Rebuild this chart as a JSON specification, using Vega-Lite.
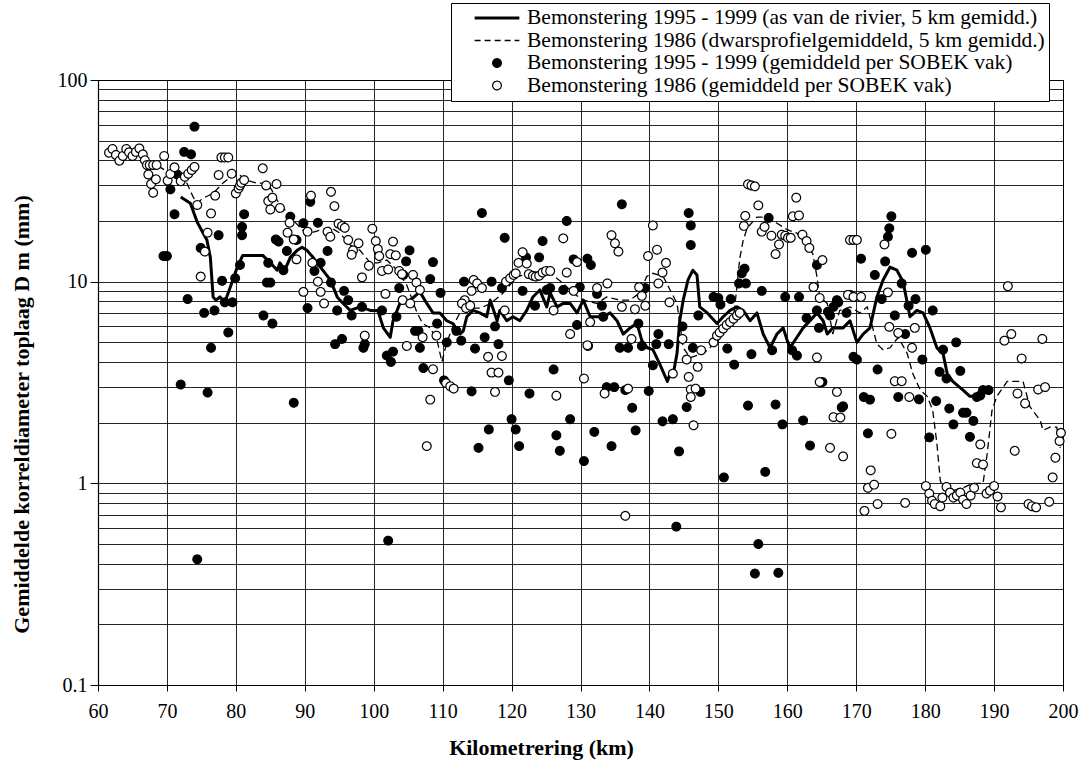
{
"$schema":"https://vega.github.io/schema/vega-lite/v6.json",
"width":965,"height":605,
"autosize":{"type":"none"},
"padding":{"left":98,"top":80,"right":24,"bottom":85},
"background":"white",
"view":{"stroke":"black","strokeWidth":1},
"config":{
 "font":"Liberation Serif",
 "axis":{"labelFont":"Liberation Serif","titleFont":"Liberation Serif","labelFontSize":20,"titleFontSize":22,"titleFontWeight":"bold","labelColor":"black","titleColor":"black","domainColor":"black","tickColor":"black","gridColor":"black","gridOpacity":0.85,"gridWidth":1,"domainWidth":1.2}
},
"datasets":{
"solid":[
{"km":72.0,"d":26.3},{"km":73.4,"d":24.5},{"km":74.4,"d":19.7},{"km":75.8,"d":16.1},{"km":76.3,"d":13.2},{"km":76.7,"d":8.4},{"km":77.1,"d":8.1},{"km":77.7,"d":8.4},{"km":78.4,"d":7.9},{"km":79.2,"d":9.4},{"km":80.2,"d":11.8},{"km":81.0,"d":13.5},{"km":83.9,"d":13.5},{"km":85.0,"d":12.4},{"km":86.0,"d":11.4},{"km":86.4,"d":12.4},{"km":87.1,"d":11.4},{"km":87.9,"d":13.2},{"km":88.9,"d":14.3},{"km":89.6,"d":14.8},{"km":90.3,"d":14.3},{"km":91.2,"d":13.2},{"km":92.6,"d":11.4},{"km":93.7,"d":10.2},{"km":94.7,"d":8.4},{"km":95.1,"d":8.1},{"km":96.6,"d":7.2},{"km":98.0,"d":7.5},{"km":99.5,"d":7.2},{"km":100.6,"d":7.2},{"km":101.4,"d":5.9},{"km":102.4,"d":5.3},{"km":102.8,"d":6.4},{"km":103.8,"d":7.8},{"km":105.3,"d":8.1},{"km":106.7,"d":8.9},{"km":107.7,"d":7.8},{"km":108.6,"d":7.0},{"km":109.6,"d":7.0},{"km":110.6,"d":6.4},{"km":111.5,"d":6.2},{"km":112.5,"d":5.5},{"km":113.0,"d":5.7},{"km":113.5,"d":6.7},{"km":114.4,"d":7.2},{"km":115.4,"d":7.0},{"km":116.4,"d":6.7},{"km":116.9,"d":8.1},{"km":117.9,"d":6.4},{"km":118.3,"d":7.2},{"km":119.3,"d":6.4},{"km":120.2,"d":6.7},{"km":121.2,"d":6.4},{"km":122.2,"d":7.2},{"km":123.1,"d":8.4},{"km":124.1,"d":9.1},{"km":125.1,"d":7.5},{"km":125.6,"d":8.8},{"km":126.6,"d":7.5},{"km":127.5,"d":7.8},{"km":128.5,"d":7.8},{"km":129.5,"d":7.0},{"km":130.4,"d":8.1},{"km":131.4,"d":6.7},{"km":132.4,"d":6.7},{"km":133.3,"d":6.7},{"km":134.3,"d":7.0},{"km":135.3,"d":6.4},{"km":136.2,"d":5.5},{"km":137.2,"d":5.9},{"km":138.2,"d":6.2},{"km":138.9,"d":5.1},{"km":139.7,"d":4.7},{"km":140.5,"d":4.6},{"km":141.5,"d":3.9},{"km":142.6,"d":3.2},{"km":143.0,"d":3.5},{"km":143.4,"d":3.4},{"km":144.0,"d":4.4},{"km":144.4,"d":6.4},{"km":144.9,"d":8.1},{"km":145.6,"d":10.2},{"km":146.3,"d":11.4},{"km":146.9,"d":10.8},{"km":147.3,"d":7.5},{"km":148.4,"d":7.0},{"km":149.8,"d":6.2},{"km":150.7,"d":6.7},{"km":151.7,"d":7.2},{"km":152.7,"d":7.5},{"km":153.6,"d":7.2},{"km":154.6,"d":6.4},{"km":155.6,"d":7.0},{"km":156.5,"d":5.5},{"km":157.5,"d":4.7},{"km":158.5,"d":5.5},{"km":159.4,"d":5.9},{"km":160.0,"d":5.1},{"km":160.4,"d":4.7},{"km":161.4,"d":5.3},{"km":162.3,"d":5.9},{"km":163.3,"d":6.4},{"km":164.3,"d":7.0},{"km":165.2,"d":6.4},{"km":165.8,"d":5.5},{"km":166.6,"d":5.9},{"km":168.1,"d":5.9},{"km":169.1,"d":6.4},{"km":170.1,"d":5.0},{"km":171.0,"d":5.5},{"km":172.0,"d":5.9},{"km":173.0,"d":8.4},{"km":173.9,"d":10.2},{"km":174.9,"d":11.8},{"km":175.9,"d":11.4},{"km":176.8,"d":10.0},{"km":177.8,"d":6.7},{"km":178.8,"d":7.2},{"km":179.7,"d":7.0},{"km":180.7,"d":5.9},{"km":181.7,"d":4.7},{"km":182.6,"d":4.4},{"km":183.2,"d":3.5},{"km":184.0,"d":3.2},{"km":185.5,"d":2.9},{"km":186.5,"d":2.7},{"km":187.5,"d":2.7},{"km":188.4,"d":2.9},{"km":189.4,"d":2.9}
],
"dashed":[
{"km":67.1,"d":37.9},{"km":69.0,"d":37.0},{"km":70.4,"d":34.5},{"km":71.5,"d":33.0},{"km":72.9,"d":30.8},{"km":73.8,"d":26.3},{"km":74.4,"d":24.5},{"km":75.2,"d":25.9},{"km":76.7,"d":27.4},{"km":78.1,"d":30.8},{"km":79.2,"d":33.0},{"km":80.2,"d":34.5},{"km":81.6,"d":31.8},{"km":83.1,"d":30.8},{"km":84.5,"d":30.8},{"km":85.2,"d":28.5},{"km":86.0,"d":25.3},{"km":86.8,"d":23.4},{"km":88.3,"d":20.2},{"km":89.7,"d":18.0},{"km":90.8,"d":17.4},{"km":92.2,"d":18.0},{"km":93.7,"d":18.6},{"km":95.1,"d":17.4},{"km":96.6,"d":15.2},{"km":98.0,"d":14.3},{"km":99.5,"d":12.4},{"km":100.6,"d":12.4},{"km":101.9,"d":12.8},{"km":103.4,"d":11.4},{"km":104.8,"d":9.6},{"km":106.3,"d":7.0},{"km":107.1,"d":6.2},{"km":108.2,"d":5.9},{"km":109.2,"d":5.1},{"km":109.9,"d":4.0},{"km":110.6,"d":5.0},{"km":111.5,"d":6.0},{"km":112.5,"d":7.0},{"km":114.0,"d":7.4},{"km":115.5,"d":7.4},{"km":117.0,"d":7.8},{"km":118.8,"d":8.8},{"km":120.8,"d":10.6},{"km":122.7,"d":11.0},{"km":125.1,"d":11.4},{"km":127.5,"d":9.8},{"km":128.9,"d":8.8},{"km":130.4,"d":8.1},{"km":132.4,"d":7.8},{"km":133.8,"d":8.4},{"km":135.7,"d":8.1},{"km":137.2,"d":8.1},{"km":138.6,"d":8.8},{"km":139.6,"d":10.6},{"km":140.5,"d":11.0},{"km":142.0,"d":10.6},{"km":143.0,"d":9.1},{"km":144.0,"d":7.8},{"km":144.9,"d":4.7},{"km":145.9,"d":4.2},{"km":147.8,"d":4.4},{"km":148.8,"d":4.7},{"km":149.8,"d":5.3},{"km":150.7,"d":5.7},{"km":151.7,"d":6.2},{"km":152.2,"d":6.6},{"km":152.7,"d":9.5},{"km":153.1,"d":13.0},{"km":153.6,"d":16.0},{"km":154.2,"d":18.5},{"km":155.6,"d":20.9},{"km":157.1,"d":20.9},{"km":158.5,"d":19.5},{"km":160.0,"d":18.1},{"km":161.4,"d":17.4},{"km":162.9,"d":14.8},{"km":163.7,"d":13.8},{"km":164.3,"d":10.6},{"km":164.7,"d":8.4},{"km":165.8,"d":7.8},{"km":166.6,"d":5.5},{"km":167.6,"d":7.2},{"km":169.1,"d":7.5},{"km":170.5,"d":7.0},{"km":171.6,"d":7.5},{"km":172.4,"d":5.9},{"km":173.0,"d":4.9},{"km":173.9,"d":4.6},{"km":174.9,"d":4.7},{"km":176.1,"d":5.3},{"km":177.4,"d":4.4},{"km":178.2,"d":3.5},{"km":179.3,"d":2.9},{"km":180.3,"d":2.7},{"km":181.1,"d":2.3},{"km":181.7,"d":1.58},{"km":182.2,"d":1.03},{"km":182.6,"d":0.95},{"km":184.0,"d":0.92},{"km":185.5,"d":0.95},{"km":186.9,"d":1.0},{"km":188.4,"d":1.0},{"km":189.0,"d":1.4},{"km":189.7,"d":2.3},{"km":190.4,"d":2.7},{"km":191.9,"d":3.2},{"km":192.7,"d":3.2},{"km":194.2,"d":3.2},{"km":195.2,"d":2.4},{"km":196.7,"d":2.05},{"km":197.1,"d":1.83},{"km":198.1,"d":1.9},{"km":199.1,"d":1.9},{"km":199.6,"d":1.5}
],
"pts":[
{"s":"C","km":74.0,"d":58.7},{"s":"C","km":72.5,"d":44},{"s":"C","km":73.5,"d":42.8},{"s":"C","km":71.5,"d":34},{"s":"C","km":70.5,"d":28.7},{"s":"C","km":71.1,"d":21.6},{"s":"C","km":69.5,"d":13.4},{"s":"C","km":70.0,"d":13.4},{"s":"C","km":74.9,"d":14.7},{"s":"C","km":77.5,"d":17},{"s":"C","km":81.2,"d":21.6},{"s":"C","km":80.9,"d":18.7},{"s":"C","km":80.9,"d":17},{"s":"C","km":78.0,"d":10.1},{"s":"C","km":73.0,"d":8.2},{"s":"C","km":75.4,"d":7.0},{"s":"C","km":76.9,"d":7.2},{"s":"C","km":78.4,"d":7.9},{"s":"C","km":79.5,"d":7.9},{"s":"C","km":79.9,"d":10.4},{"s":"C","km":80.6,"d":12.1},{"s":"C","km":84.0,"d":6.8},{"s":"C","km":84.5,"d":9.9},{"s":"C","km":85.0,"d":9.9},{"s":"C","km":84.7,"d":12.4},{"s":"C","km":85.8,"d":16.2},{"s":"C","km":86.2,"d":15.8},{"s":"C","km":86.9,"d":11.4},{"s":"C","km":87.4,"d":14.2},{"s":"C","km":87.9,"d":21},{"s":"C","km":88.8,"d":16.1},{"s":"C","km":89.8,"d":19.5},{"s":"C","km":90.8,"d":24.9},{"s":"C","km":91.9,"d":19.6},{"s":"C","km":91.4,"d":11.3},{"s":"C","km":92.3,"d":12.4},{"s":"C","km":93.3,"d":14.2},{"s":"C","km":90.4,"d":7.4},{"s":"C","km":93.8,"d":9.9},{"s":"C","km":94.7,"d":7.2},{"s":"C","km":78.9,"d":5.6},{"s":"C","km":76.4,"d":4.7},{"s":"C","km":72.0,"d":3.09},{"s":"C","km":75.9,"d":2.82},{"s":"C","km":74.4,"d":0.42},{"s":"C","km":85.3,"d":6.2},{"s":"C","km":88.4,"d":2.51},{"s":"C","km":94.4,"d":4.9},
{"s":"C","km":115.7,"d":21.9},{"s":"C","km":119.0,"d":16.5},{"s":"C","km":124.5,"d":15.9},{"s":"C","km":124.0,"d":13.2},{"s":"C","km":128.0,"d":20},{"s":"C","km":129.0,"d":12.9},{"s":"C","km":122.1,"d":13.2},{"s":"C","km":121.6,"d":9.0},{"s":"C","km":117.1,"d":10.0},{"s":"C","km":118.6,"d":9.3},{"s":"C","km":113.1,"d":10.0},{"s":"C","km":109.7,"d":8.8},{"s":"C","km":108.2,"d":10.3},{"s":"C","km":108.6,"d":12.5},{"s":"C","km":105.2,"d":14.3},{"s":"C","km":104.7,"d":12.6},{"s":"C","km":103.7,"d":9.3},{"s":"C","km":95.7,"d":9.0},{"s":"C","km":113.7,"d":7.7},{"s":"C","km":125.1,"d":9.1},{"s":"C","km":127.5,"d":9.1},{"s":"C","km":96.3,"d":8.1},{"s":"C","km":96.8,"d":6.8},{"s":"C","km":98.3,"d":7.5},{"s":"C","km":98.5,"d":4.7},{"s":"C","km":95.4,"d":5.2},{"s":"C","km":101.2,"d":7.2},{"s":"C","km":103.3,"d":6.7},{"s":"C","km":104.3,"d":10.8},{"s":"C","km":106.0,"d":5.7},{"s":"C","km":106.5,"d":5.7},{"s":"C","km":106.7,"d":4.7},{"s":"C","km":109.2,"d":6.2},{"s":"C","km":110.6,"d":5.0},{"s":"C","km":112.0,"d":5.7},{"s":"C","km":112.7,"d":5.1},{"s":"C","km":116.1,"d":5.3},{"s":"C","km":117.6,"d":6.0},{"s":"C","km":123.4,"d":7.6},{"s":"C","km":125.6,"d":9.3},{"s":"C","km":129.5,"d":6.1},{"s":"C","km":129.9,"d":9.4},{"s":"C","km":131.0,"d":13.0},{"s":"C","km":131.5,"d":12.1},{"s":"C","km":132.4,"d":8.7},{"s":"C","km":133.1,"d":7.6},{"s":"C","km":133.3,"d":6.7},{"s":"C","km":135.7,"d":4.7},{"s":"C","km":136.9,"d":4.7},{"s":"C","km":138.9,"d":4.8},{"s":"C","km":139.4,"d":9.3},{"s":"C","km":141.3,"d":5.5},{"s":"C","km":146.0,"d":19},{"s":"C","km":146.0,"d":15.2},{"s":"C","km":145.7,"d":21.9},{"s":"C","km":147.1,"d":6.8},
{"s":"C","km":98.7,"d":4.9},{"s":"C","km":101.9,"d":4.3},{"s":"C","km":102.8,"d":4.5},{"s":"C","km":102.5,"d":4.0},{"s":"C","km":102.1,"d":0.52},{"s":"C","km":107.2,"d":3.73},{"s":"C","km":110.2,"d":3.24},{"s":"C","km":114.2,"d":2.86},{"s":"C","km":114.7,"d":4.66},{"s":"C","km":118.1,"d":4.9},{"s":"C","km":119.6,"d":3.24},{"s":"C","km":115.2,"d":1.5},{"s":"C","km":116.7,"d":1.85},{"s":"C","km":120.0,"d":2.08},{"s":"C","km":120.6,"d":1.85},{"s":"C","km":121.1,"d":1.53},{"s":"C","km":122.6,"d":2.79},{"s":"C","km":126.1,"d":3.67},{"s":"C","km":126.5,"d":1.73},{"s":"C","km":127.0,"d":1.45},{"s":"C","km":128.5,"d":2.08},
{"s":"C","km":130.5,"d":1.29},{"s":"C","km":132.0,"d":1.8},{"s":"C","km":133.8,"d":3.0},{"s":"C","km":134.9,"d":3.0},{"s":"C","km":134.5,"d":1.53},{"s":"C","km":136.5,"d":2.9},{"s":"C","km":137.5,"d":2.37},{"s":"C","km":138.0,"d":1.83},{"s":"C","km":138.4,"d":6.2},{"s":"C","km":139.9,"d":2.87},{"s":"C","km":140.5,"d":3.85},{"s":"C","km":141.0,"d":4.9},{"s":"C","km":141.9,"d":2.03},{"s":"C","km":142.8,"d":4.9},{"s":"C","km":143.4,"d":2.08},{"s":"C","km":144.3,"d":1.44},{"s":"C","km":143.9,"d":0.61},{"s":"C","km":144.8,"d":6.0},{"s":"C","km":145.4,"d":2.39},{"s":"C","km":146.3,"d":4.7},{"s":"C","km":147.4,"d":2.84},{"s":"C","km":150.3,"d":7.7},{"s":"C","km":151.3,"d":4.66},{"s":"C","km":152.3,"d":3.88},{"s":"C","km":150.8,"d":1.07},{"s":"C","km":154.3,"d":2.43},{"s":"C","km":154.8,"d":4.37},{"s":"C","km":155.8,"d":0.5},{"s":"C","km":156.8,"d":1.14},{"s":"C","km":157.8,"d":4.57},{"s":"C","km":158.3,"d":2.46},{"s":"C","km":159.3,"d":1.96},{"s":"C","km":160.7,"d":4.57},{"s":"C","km":161.4,"d":4.3},{"s":"C","km":162.3,"d":2.05},{"s":"C","km":163.3,"d":1.54},{"s":"C","km":162.8,"d":6.6},{"s":"C","km":164.3,"d":7.2},{"s":"C","km":155.3,"d":0.357},{"s":"C","km":158.7,"d":0.36},
{"s":"C","km":136.0,"d":24.2},{"s":"C","km":149.3,"d":8.4},{"s":"C","km":150.0,"d":8.3},{"s":"C","km":151.8,"d":8.2},{"s":"C","km":153.0,"d":9.8},{"s":"C","km":153.8,"d":11.6},{"s":"C","km":153.4,"d":11.0},{"s":"C","km":154.0,"d":9.8},{"s":"C","km":157.3,"d":20.7},{"s":"C","km":156.3,"d":9.0},{"s":"C","km":159.7,"d":8.4},{"s":"C","km":161.7,"d":8.4},{"s":"C","km":164.3,"d":12.1},{"s":"C","km":164.6,"d":5.9},{"s":"C","km":165.9,"d":7.1},{"s":"C","km":167.2,"d":8.1},{"s":"C","km":167.4,"d":7.9},{"s":"C","km":166.7,"d":7.5},{"s":"C","km":166.2,"d":6.8},{"s":"C","km":168.6,"d":7.0},{"s":"C","km":170.7,"d":13.0},{"s":"C","km":172.7,"d":10.8},{"s":"C","km":174.2,"d":12.6},{"s":"C","km":174.6,"d":16.7},{"s":"C","km":174.8,"d":18.4},{"s":"C","km":175.1,"d":21.1},{"s":"C","km":173.7,"d":8.2},{"s":"C","km":175.6,"d":6.8},{"s":"C","km":176.6,"d":9.8},{"s":"C","km":177.1,"d":5.5},{"s":"C","km":177.6,"d":7.6},{"s":"C","km":178.1,"d":13.9},{"s":"C","km":178.6,"d":8.2},{"s":"C","km":180.1,"d":14.4},{"s":"C","km":181.1,"d":7.2},{"s":"C","km":184.5,"d":5.0},{"s":"C","km":182.6,"d":4.6},{"s":"C","km":169.1,"d":8.6},
{"s":"C","km":165.1,"d":3.18},{"s":"C","km":167.9,"d":2.38},{"s":"C","km":168.1,"d":2.41},{"s":"C","km":169.6,"d":4.24},{"s":"C","km":170.1,"d":4.11},{"s":"C","km":171.1,"d":2.68},{"s":"C","km":172.0,"d":2.6},{"s":"C","km":171.7,"d":1.77},{"s":"C","km":173.1,"d":3.67},{"s":"C","km":176.1,"d":2.68},{"s":"C","km":179.1,"d":2.61},{"s":"C","km":179.6,"d":4.11},{"s":"C","km":180.6,"d":1.69},{"s":"C","km":181.6,"d":2.56},{"s":"C","km":182.1,"d":3.57},{"s":"C","km":183.1,"d":3.31},{"s":"C","km":183.5,"d":2.35},{"s":"C","km":184.1,"d":1.96},{"s":"C","km":185.1,"d":3.61},{"s":"C","km":185.5,"d":2.24},{"s":"C","km":186.0,"d":2.24},{"s":"C","km":186.5,"d":1.7},{"s":"C","km":187.0,"d":2.04},{"s":"C","km":187.5,"d":2.68},{"s":"C","km":188.0,"d":2.73},{"s":"C","km":188.4,"d":2.9},{"s":"C","km":189.2,"d":2.9},
{"s":"D","km":61.6,"d":43.6},{"s":"D","km":62.1,"d":45.5},{"s":"D","km":62.6,"d":42.5},{"s":"D","km":63.1,"d":39.8},{"s":"D","km":63.6,"d":42},{"s":"D","km":64.1,"d":45.5},{"s":"D","km":64.5,"d":43.8},{"s":"D","km":65.0,"d":42},{"s":"D","km":65.5,"d":44},{"s":"D","km":66.0,"d":45.8},{"s":"D","km":66.5,"d":42.8},{"s":"D","km":66.8,"d":40},{"s":"D","km":67.1,"d":37.9},{"s":"D","km":67.5,"d":37.9},{"s":"D","km":68.0,"d":37.9},{"s":"D","km":68.5,"d":37.9},{"s":"D","km":67.3,"d":34},{"s":"D","km":67.7,"d":30.5},{"s":"D","km":68.0,"d":27.6},{"s":"D","km":68.4,"d":32.2},{"s":"D","km":69.6,"d":42},{"s":"D","km":70.1,"d":31.7},{"s":"D","km":70.5,"d":34.2},{"s":"D","km":71.1,"d":36.9},{"s":"D","km":72.0,"d":31.5},{"s":"D","km":72.6,"d":33.1},{"s":"D","km":73.1,"d":34.3},{"s":"D","km":73.6,"d":35.8},{"s":"D","km":74.0,"d":37.1},{"s":"D","km":74.4,"d":24},{"s":"D","km":75.9,"d":17.5},{"s":"D","km":75.5,"d":14.1},{"s":"D","km":74.9,"d":10.6},{"s":"D","km":76.4,"d":21.8},{"s":"D","km":77.0,"d":26.7},{"s":"D","km":77.5,"d":33.8},{"s":"D","km":77.9,"d":41.3},{"s":"D","km":78.4,"d":41.3},{"s":"D","km":78.9,"d":41.3},{"s":"D","km":79.4,"d":34.3},{"s":"D","km":80.0,"d":27.4},{"s":"D","km":80.4,"d":29},{"s":"D","km":80.6,"d":30},{"s":"D","km":80.8,"d":30.9},{"s":"D","km":81.2,"d":31.9},{"s":"D","km":83.9,"d":36.5},{"s":"D","km":84.4,"d":30},{"s":"D","km":85.9,"d":30.5},{"s":"D","km":84.7,"d":25.1},{"s":"D","km":85.3,"d":26.1},{"s":"D","km":85.0,"d":22.8},{"s":"D","km":86.4,"d":23.2},{"s":"D","km":87.8,"d":19.6},{"s":"D","km":87.5,"d":17.5},{"s":"D","km":88.4,"d":16.2},{"s":"D","km":90.4,"d":17.7},{"s":"D","km":88.8,"d":12.9},{"s":"D","km":90.9,"d":26.7},{"s":"D","km":93.8,"d":27.9},{"s":"D","km":94.3,"d":23.7},{"s":"D","km":94.9,"d":19.4},{"s":"D","km":93.3,"d":17.7},{"s":"D","km":93.7,"d":16.7},{"s":"D","km":91.1,"d":12.4},{"s":"D","km":89.8,"d":8.9},{"s":"D","km":91.9,"d":10.0},{"s":"D","km":92.3,"d":8.9},{"s":"D","km":92.8,"d":7.8},
{"s":"D","km":95.4,"d":18.9},{"s":"D","km":95.8,"d":18.5},{"s":"D","km":96.3,"d":16.1},{"s":"D","km":97.8,"d":15.5},{"s":"D","km":97.0,"d":14.3},{"s":"D","km":96.8,"d":13.6},{"s":"D","km":99.8,"d":18.3},{"s":"D","km":100.3,"d":15.9},{"s":"D","km":100.6,"d":14.5},{"s":"D","km":100.8,"d":13.4},{"s":"D","km":101.2,"d":11.3},{"s":"D","km":99.3,"d":12.0},{"s":"D","km":98.3,"d":10.5},{"s":"D","km":101.7,"d":8.7},{"s":"D","km":102.1,"d":11.5},{"s":"D","km":102.4,"d":13.7},{"s":"D","km":103.2,"d":13.5},{"s":"D","km":102.8,"d":15.8},{"s":"D","km":103.7,"d":11.3},{"s":"D","km":104.1,"d":10.9},{"s":"D","km":105.7,"d":10.8},{"s":"D","km":106.2,"d":9.9},{"s":"D","km":106.7,"d":9.1},{"s":"D","km":104.2,"d":8.1},{"s":"D","km":105.3,"d":7.8},{"s":"D","km":114.5,"d":10.2},{"s":"D","km":115.0,"d":9.8},{"s":"D","km":115.7,"d":9.3},{"s":"D","km":114.2,"d":9.0},{"s":"D","km":113.2,"d":8.1},{"s":"D","km":119.2,"d":10.0},{"s":"D","km":119.8,"d":10.4},{"s":"D","km":120.3,"d":10.8},{"s":"D","km":120.6,"d":11.0},{"s":"D","km":121.6,"d":14},{"s":"D","km":121.0,"d":12.4},{"s":"D","km":122.2,"d":12.3},{"s":"D","km":122.5,"d":10.9},{"s":"D","km":123.1,"d":10.7},{"s":"D","km":123.5,"d":10.6},{"s":"D","km":124.0,"d":10.7},{"s":"D","km":124.5,"d":11.1},{"s":"D","km":125.0,"d":11.3},{"s":"D","km":125.6,"d":11.3},{"s":"D","km":127.5,"d":16.4},{"s":"D","km":128.0,"d":11.1},{"s":"D","km":129.5,"d":12.5},{"s":"D","km":126.1,"d":7.2},{"s":"D","km":129.0,"d":9.0},
{"s":"D","km":98.7,"d":5.4},{"s":"D","km":104.8,"d":4.8},{"s":"D","km":107.1,"d":5.3},{"s":"D","km":109.1,"d":5.4},{"s":"D","km":112.8,"d":7.8},{"s":"D","km":113.4,"d":7.4},{"s":"D","km":114.0,"d":7.6},{"s":"D","km":119.0,"d":7.2},{"s":"D","km":128.5,"d":5.5},{"s":"D","km":131.1,"d":4.8},{"s":"D","km":131.4,"d":6.3},{"s":"D","km":133.9,"d":9.8},{"s":"D","km":134.5,"d":17},{"s":"D","km":135.0,"d":15.5},{"s":"D","km":135.5,"d":14.1},{"s":"D","km":136.0,"d":7.5},{"s":"D","km":137.4,"d":5.2},{"s":"D","km":137.9,"d":7.3},{"s":"D","km":138.9,"d":8.5},{"s":"D","km":139.4,"d":7.6},{"s":"D","km":139.8,"d":13.4},{"s":"D","km":141.1,"d":14.4},{"s":"D","km":141.3,"d":9.8},{"s":"D","km":141.9,"d":11.1},{"s":"D","km":142.4,"d":12.4},{"s":"D","km":142.9,"d":7.9},{"s":"D","km":140.5,"d":19},{"s":"D","km":144.8,"d":5.2},{"s":"D","km":132.4,"d":9.3},{"s":"D","km":138.5,"d":9.4},
{"s":"D","km":108.6,"d":3.68},{"s":"D","km":108.2,"d":2.6},{"s":"D","km":107.7,"d":1.53},{"s":"D","km":110.5,"d":3.14},{"s":"D","km":111.1,"d":3.03},{"s":"D","km":111.6,"d":2.95},{"s":"D","km":116.6,"d":4.24},{"s":"D","km":118.6,"d":4.28},{"s":"D","km":117.1,"d":3.54},{"s":"D","km":118.1,"d":3.54},{"s":"D","km":117.6,"d":2.84},{"s":"D","km":126.5,"d":2.72},
{"s":"D","km":130.5,"d":3.31},{"s":"D","km":131.0,"d":4.84},{"s":"D","km":133.5,"d":2.79},{"s":"D","km":136.9,"d":2.95},{"s":"D","km":136.5,"d":0.69},{"s":"D","km":143.4,"d":3.5},{"s":"D","km":145.4,"d":4.11},{"s":"D","km":145.7,"d":3.37},{"s":"D","km":146.0,"d":2.92},{"s":"D","km":146.7,"d":2.95},{"s":"D","km":146.0,"d":2.68},{"s":"D","km":146.4,"d":1.94},{"s":"D","km":147.0,"d":3.78},{"s":"D","km":147.5,"d":4.57},{"s":"D","km":149.3,"d":5.0},{"s":"D","km":149.8,"d":5.4},{"s":"D","km":150.2,"d":5.6},{"s":"D","km":150.7,"d":5.85},{"s":"D","km":151.2,"d":6.1},{"s":"D","km":151.7,"d":6.3},{"s":"D","km":152.2,"d":6.55},{"s":"D","km":152.7,"d":6.8},{"s":"D","km":153.1,"d":7.0},{"s":"D","km":164.3,"d":4.21},{"s":"D","km":164.7,"d":3.18},
{"s":"D","km":154.3,"d":30.4},{"s":"D","km":154.8,"d":30},{"s":"D","km":155.3,"d":29.7},{"s":"D","km":155.8,"d":23.9},{"s":"D","km":153.9,"d":21.2},{"s":"D","km":153.7,"d":18.9},{"s":"D","km":156.3,"d":17.7},{"s":"D","km":156.7,"d":18.7},{"s":"D","km":157.7,"d":16.9},{"s":"D","km":158.3,"d":13.7},{"s":"D","km":158.8,"d":15.3},{"s":"D","km":159.2,"d":17.1},{"s":"D","km":159.7,"d":16.9},{"s":"D","km":160.1,"d":16.5},{"s":"D","km":160.5,"d":16.5},{"s":"D","km":160.8,"d":21.1},{"s":"D","km":161.3,"d":26.1},{"s":"D","km":161.7,"d":21.3},{"s":"D","km":162.2,"d":17.1},{"s":"D","km":162.8,"d":15.9},{"s":"D","km":163.2,"d":14.7},{"s":"D","km":163.8,"d":9.4},{"s":"D","km":164.7,"d":8.3},{"s":"D","km":165.1,"d":12.8},{"s":"D","km":169.1,"d":16.1},{"s":"D","km":169.6,"d":16.1},{"s":"D","km":170.1,"d":16.1},{"s":"D","km":174.1,"d":15.3},{"s":"D","km":174.6,"d":8.85},{"s":"D","km":168.8,"d":8.6},{"s":"D","km":169.6,"d":8.4},{"s":"D","km":170.7,"d":8.4},{"s":"D","km":174.8,"d":5.97},{"s":"D","km":176.1,"d":5.57},{"s":"D","km":178.5,"d":5.9},{"s":"D","km":178.1,"d":4.7},{"s":"D","km":192.0,"d":9.5},{"s":"D","km":191.5,"d":5.1},{"s":"D","km":192.5,"d":5.5},{"s":"D","km":197.0,"d":5.2},
{"s":"D","km":167.2,"d":2.84},{"s":"D","km":166.7,"d":2.13},{"s":"D","km":167.7,"d":2.12},{"s":"D","km":166.2,"d":1.5},{"s":"D","km":168.1,"d":1.36},{"s":"D","km":172.1,"d":1.16},{"s":"D","km":171.7,"d":0.95},{"s":"D","km":172.6,"d":0.985},{"s":"D","km":171.2,"d":0.73},{"s":"D","km":173.1,"d":0.79},{"s":"D","km":175.1,"d":1.76},{"s":"D","km":175.6,"d":3.21},{"s":"D","km":176.6,"d":3.21},{"s":"D","km":177.7,"d":2.68},{"s":"D","km":177.1,"d":0.8},{"s":"D","km":180.1,"d":0.97},{"s":"D","km":180.6,"d":0.89},{"s":"D","km":181.0,"d":0.82},{"s":"D","km":181.4,"d":0.79},{"s":"D","km":182.2,"d":0.77},{"s":"D","km":182.5,"d":0.85},{"s":"D","km":183.1,"d":0.96},{"s":"D","km":183.6,"d":0.9},{"s":"D","km":184.1,"d":0.85},{"s":"D","km":184.6,"d":0.87},{"s":"D","km":185.1,"d":0.9},{"s":"D","km":185.5,"d":0.83},{"s":"D","km":186.0,"d":0.79},{"s":"D","km":186.6,"d":0.87},{"s":"D","km":187.1,"d":0.95},{"s":"D","km":188.0,"d":1.56},{"s":"D","km":187.5,"d":1.26},{"s":"D","km":188.4,"d":1.24},{"s":"D","km":188.9,"d":0.89},{"s":"D","km":189.4,"d":0.92},{"s":"D","km":190.0,"d":0.97},{"s":"D","km":190.5,"d":0.86},{"s":"D","km":191.0,"d":0.76},{"s":"D","km":193.0,"d":1.45},{"s":"D","km":193.4,"d":2.79},{"s":"D","km":194.0,"d":4.16},{"s":"D","km":194.5,"d":2.49},{"s":"D","km":195.0,"d":0.79},{"s":"D","km":195.5,"d":0.77},{"s":"D","km":196.1,"d":0.76},{"s":"D","km":196.4,"d":2.92},{"s":"D","km":197.4,"d":3.0},{"s":"D","km":198.0,"d":0.81},{"s":"D","km":198.5,"d":1.07},{"s":"D","km":198.9,"d":1.34},{"s":"D","km":199.5,"d":1.62},{"s":"D","km":199.7,"d":1.78}
]
},
"encoding":{
 "x":{"field":"km","type":"quantitative","scale":{"domain":[60,200],"nice":false,"zero":false},
  "axis":{"title":"Kilometrering (km)","titleX":443,"values":[60,70,80,90,100,110,120,130,140,150,160,170,180,190,200],"format":"d","tickSize":6,"labelPadding":10,"titlePadding":16,"grid":true,"labelFlush":false}},
 "y":{"field":"d","type":"quantitative","scale":{"type":"log","domain":[0.1,100],"nice":false},
  "axis":{"title":"Gemiddelde korreldiameter toplaag D m (mm)","titleY":334,"values":[0.1,0.2,0.3,0.4,0.5,0.6,0.7,0.8,0.9,1,2,3,4,5,6,7,8,9,10,20,30,40,50,60,70,80,90,100],
   "format":"~g","labelExpr":"(datum.value == 0.1 || datum.value == 1 || datum.value == 10 || datum.value == 100) ? datum.label : ''",
   "tickColor":{"condition":{"test":"datum.value == 0.1 || datum.value == 1 || datum.value == 10 || datum.value == 100","value":"black"},"value":"transparent"},
   "tickSize":8,"labelPadding":3,"titlePadding":24,"labelOverlap":false,"grid":true,"labelFlush":false}}
},
"layer":[
 {"data":{"name":"dashed"},"mark":{"type":"line","color":"black","strokeWidth":1.3,"strokeDash":[7,4]}},
 {"data":{"name":"solid"},"mark":{"type":"line","color":"black","strokeWidth":3,"strokeJoin":"round"}},
 {"data":{"name":"pts"},"mark":{"type":"point","filled":true,"opacity":1},
  "encoding":{
   "fill":{"field":"s","type":"nominal","scale":{"domain":["A","B","C","D"],"range":["white","white","black","white"]}},
   "stroke":{"field":"s","type":"nominal","scale":{"domain":["A","B","C","D"],"range":["black","black","black","black"]}},
   "strokeDash":{"field":"s","type":"nominal","scale":{"domain":["A","B","C","D"],"range":[[1,0],[6,4],[1,0],[1,0]]}},
   "strokeWidth":{"field":"s","type":"nominal","scale":{"type":"ordinal","domain":["A","B","C","D"],"range":[3,1.3,1.2,1.2]}},
   "size":{"field":"s","type":"nominal","scale":{"type":"ordinal","domain":["A","B","C","D"],"range":[2000,2000,76,76]}},
   "shape":{"field":"s","type":"nominal","scale":{"domain":["A","B","C","D"],"range":["stroke","stroke","circle","circle"]},
    "legend":{"orient":"none","legendX":353,"legendY":-77,"title":null,
     "labelExpr":"datum.label == 'A' ? 'Bemonstering 1995 - 1999 (as van de rivier, 5 km gemidd.)' : datum.label == 'B' ? 'Bemonstering 1986 (dwarsprofielgemiddeld, 5 km gemidd.)' : datum.label == 'C' ? 'Bemonstering 1995 - 1999 (gemiddeld per SOBEK vak)' : 'Bemonstering 1986 (gemiddeld per SOBEK vak)'",
     "labelFont":"Liberation Serif","labelFontSize":21.5,"labelColor":"black","labelLimit":900,
     "strokeColor":"black","fillColor":"white","padding":4,"rowPadding":0.5,"labelOffset":6,"symbolOffset":18,"clipHeight":22}}
  }}
]
}
